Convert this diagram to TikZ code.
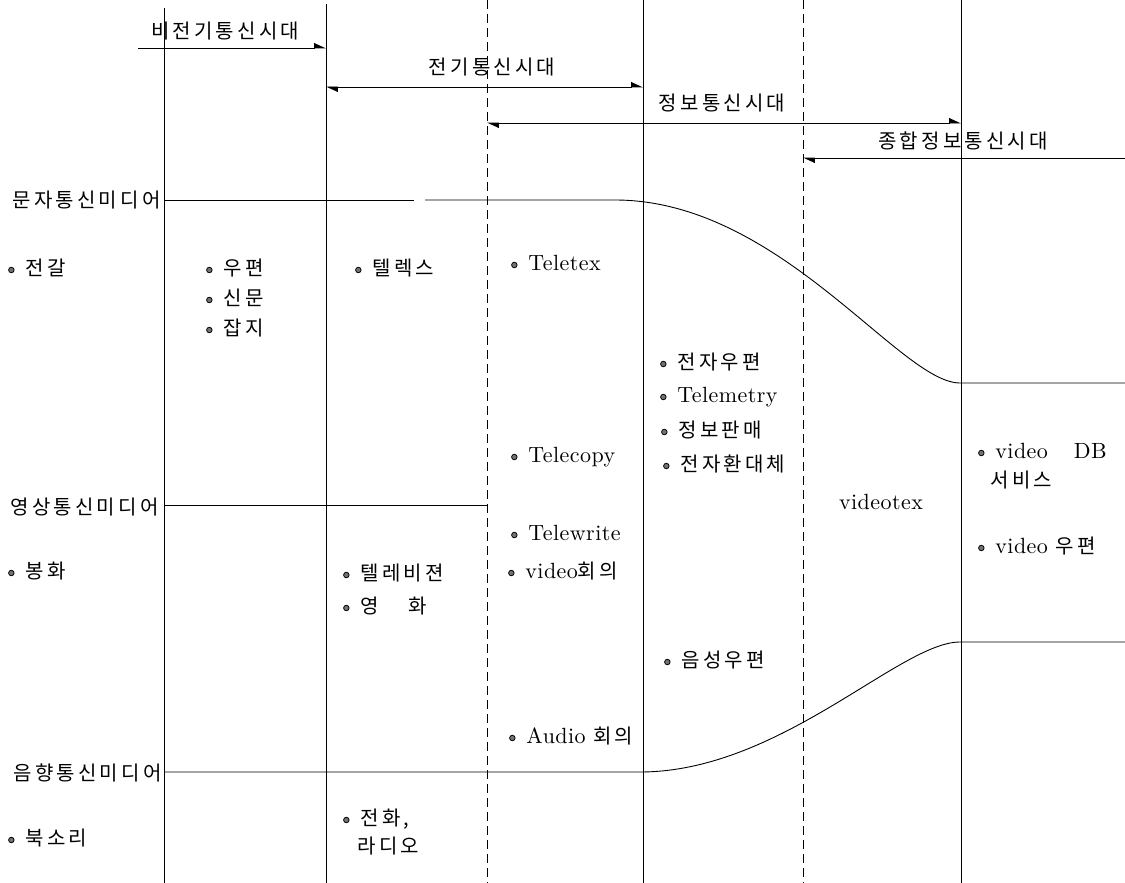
\documentclass[tikz,border=0pt]{standalone}
\usepackage{fontspec}
\usetikzlibrary{arrows.meta}
\newfontfamily\kr{Noto Sans CJK KR}[LetterSpace=16]
\newfontfamily\lat{lmroman10-regular}[Extension=.otf,LetterSpace=2]
\newcommand\la[1]{{\lat\fontsize{22}{26}\selectfont #1}}
\begin{document}
\begin{tikzpicture}[x=1pt,y=-1pt,line width=0.9pt,
  txt/.style={inner sep=0pt,font=\fontsize{20}{24}\selectfont\kr},
  dot/.style={circle,draw,fill=black!55,line width=0.8pt,inner sep=0pt,minimum size=5.5pt,text height=0pt,text depth=0pt,xshift=-10.5pt},
  item/.style={txt,anchor=west,text height=15pt,text depth=4pt,label={[dot]left:{}}},
  plain/.style={txt,anchor=west,text height=15pt,text depth=4pt},
  vline/.style={line width=0.8pt},
  dline/.style={line width=0.8pt,dash pattern=on 9pt off 5pt},
  tip/.tip={Triangle[harpoon,length=11pt,width=10pt]}]
\useasboundingbox (0,0) rectangle (1125,883);
% vertical lines
\coordinate (a1) at (164,8);   \coordinate (b1) at (164,883);
\coordinate (a2) at (326,4);   \coordinate (b2) at (326,883);
\coordinate (a3) at (487,0);   \coordinate (b3) at (487,883);
\coordinate (a4) at (643,0);   \coordinate (b4) at (643,883);
\coordinate (a5) at (803,0);   \coordinate (b5) at (803,883);
\coordinate (a6) at (961,0);   \coordinate (b6) at (961,883);
\draw[vline] (a1) -- (b1);
\draw[vline] (a2) -- (b2);
\draw[dline] (a3) -- (b3);
\draw[vline] (a4) -- (b4);
\draw[dline] (a5) -- (b5);
\draw[vline] (a6) -- (b6);
% era arrows
\coordinate (e1s) at (138,48);  \coordinate (e1e) at (326,48);
\coordinate (e2s) at (326,87);  \coordinate (e2e) at (643,87);
\coordinate (e3s) at (487,123); \coordinate (e3e) at (961,123);
\coordinate (e4s) at (803,158); \coordinate (e4e) at (1125,158);
\draw[-tip] (e1s) -- (e1e);
\draw[tip-tip] (e2s) -- (e2e);
\draw[tip-tip] (e3s) -- (e3e);
\draw[tip-] (e4s) -- (e4e);
\node[txt] (l1) at (225,31) {비전기통신시대};
\node[txt] (l2) at (492,67) {전기통신시대};
\node[txt] (l3) at (722,103) {정보통신시대};
\node[txt] (l4) at (963,141) {종합정보통신시대};
% media labels
\node[txt,anchor=east] (m1) at (161,200) {문자통신미디어};
\node[txt,anchor=east] (m2) at (159,507) {영상통신미디어};
\node[txt,anchor=east] (m3) at (162,773) {음향통신미디어};
% media lines
\coordinate (p1) at (164,200); \coordinate (p2) at (414,200);
\coordinate (p3) at (425,200); \coordinate (p4) at (615,200);
\coordinate (p5) at (960,383); \coordinate (p6) at (1125,383);
\draw (p1) -- (p2);
\draw (p3) -- (p4) .. controls (780,200) and (900,383) .. (p5) -- (p6);
\coordinate (q1) at (164,505); \coordinate (q2) at (487,505);
\draw (q1) -- (q2);
\coordinate (r1) at (164,772); \coordinate (r2) at (640,772);
\coordinate (r3) at (960,642); \coordinate (r4) at (1125,642);
\draw (r1) -- (r2) .. controls (780,772) and (900,642) .. (r3) -- (r4);
% items
\node[item] (i1) at (25,270) {전갈};
\node[item] (i2) at (223,270) {우편};
\node[item] (i3) at (223,300) {신문};
\node[item] (i4) at (223,330) {잡지};
\node[item] (i5) at (372,270) {텔렉스};
\node[item] (i6) at (528,265) {\la{Teletex}};
\node[item] (i7) at (528,457) {\la{Telecopy}};
\node[item] (i8) at (528,535) {\la{Telewrite}};
\node[item] (i9) at (525,573) {\la{video}회의};
\node[item] (i10) at (526,738) {\la{Audio} 회의};
\node[item] (i11) at (677,364) {전자우편};
\node[item] (i12) at (677,397) {\la{Telemetry}};
\node[item] (i13) at (678,432) {정보판매};
\node[item] (i14) at (680,466) {전자환대체};
\node[item] (i15) at (681,662) {음성우편};
\node[txt] (i16) at (881,502) {\la{videotex}};
\node[item] (i17) at (995,453) {\la{video\hspace{26pt}DB}};
\node[plain] (i18) at (990,482) {서비스};
\node[item] (i19) at (995,548) {\la{video} 우편};
\node[item] (i20) at (25,573) {봉화};
\node[item] (i21) at (360,575) {텔레비젼};
\node[item] (i22) at (360,608) {영\hspace{30pt}화};
\node[item] (i23) at (25,840) {북소리};
\node[item] (i24) at (360,820) {전화,};
\node[plain] (i25) at (357,848) {라디오};
\end{tikzpicture}
\end{document}
